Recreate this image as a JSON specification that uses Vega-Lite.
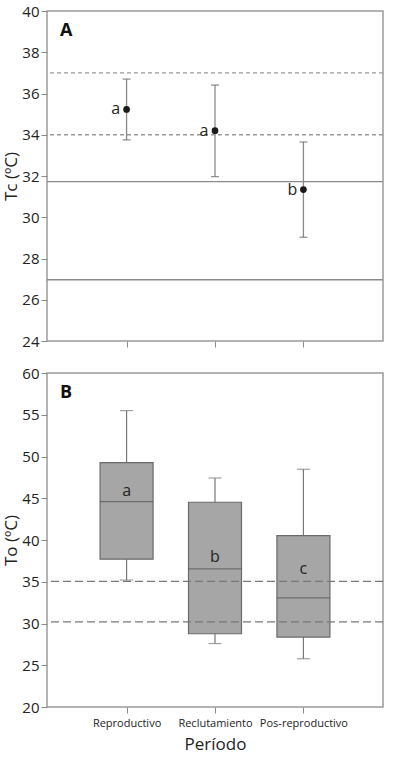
{
  "$schema": "https://vega.github.io/schema/vega-lite/v6.json",
  "padding": {"left": 2, "top": 3, "right": 10, "bottom": 5},
  "spacing": 32,
  "bounds": "flush",
  "config": {
    "font": "Open Sans",
    "view": {"stroke": "#9a9a9a", "strokeWidth": 1.5},
    "axis": {"domain": false, "grid": false, "tickColor": "#8a8a8a", "tickSize": 6, "labelColor": "#222", "titleColor": "#222", "labelFont": "Open Sans", "titleFont": "Open Sans", "titleFontWeight": "normal"}
  },
  "datasets": {
    "tc": [
      {"periodo": "Reproductivo", "media": 35.23, "lo": 33.75, "hi": 36.7, "letra": "a"},
      {"periodo": "Reclutamiento", "media": 34.2, "lo": 31.97, "hi": 36.41, "letra": "a"},
      {"periodo": "Pos-reproductivo", "media": 31.34, "lo": 29.03, "hi": 33.65, "letra": "b"}
    ],
    "tcref": [
      {"v": 37, "tipo": "dash"},
      {"v": 34, "tipo": "dash"},
      {"v": 31.73, "tipo": "solid"},
      {"v": 26.97, "tipo": "solid"}
    ],
    "to": [
      {"periodo": "Reproductivo", "min": 35.2, "q1": 37.7, "med": 44.6, "q3": 49.27, "max": 55.5, "letra": "a", "ly": 45.9},
      {"periodo": "Reclutamiento", "min": 27.6, "q1": 28.77, "med": 36.55, "q3": 44.52, "max": 47.43, "letra": "b", "ly": 38.0},
      {"periodo": "Pos-reproductivo", "min": 25.78, "q1": 28.37, "med": 33.07, "q3": 40.53, "max": 48.47, "letra": "c", "ly": 36.5}
    ],
    "toref": [{"v": 35.05}, {"v": 30.2}]
  },
  "vconcat": [
    {
      "width": 336,
      "height": 330,
      "title": {"text": "A", "anchor": "start", "frame": "group", "dx": 13, "offset": -36, "fontSize": 18, "fontWeight": "bold", "color": "#111", "font": "Open Sans"},
      "layer": [
        {
          "data": {"name": "tcref"},
          "transform": [{"filter": "datum.tipo == 'dash'"}],
          "mark": {"type": "rule", "color": "#9a9a9a", "strokeWidth": 1.3, "strokeDash": [4, 3]},
          "encoding": {"y": {"field": "v", "type": "quantitative", "scale": {"domain": [24, 40], "nice": false}}}
        },
        {
          "data": {"name": "tcref"},
          "transform": [{"filter": "datum.tipo == 'solid'"}],
          "mark": {"type": "rule", "color": "#8a8a8a", "strokeWidth": 1.3},
          "encoding": {"y": {"field": "v", "type": "quantitative"}}
        },
        {
          "data": {"name": "tc"},
          "layer": [
            {
              "mark": {"type": "rule", "color": "#8a8a8a", "strokeWidth": 1.3},
              "encoding": {"y": {"field": "lo", "type": "quantitative"}, "y2": {"field": "hi"}}
            },
            {
              "mark": {"type": "tick", "color": "#666", "size": 8, "thickness": 1.3},
              "encoding": {"y": {"field": "lo", "type": "quantitative"}}
            },
            {
              "mark": {"type": "tick", "color": "#666", "size": 8, "thickness": 1.3},
              "encoding": {"y": {"field": "hi", "type": "quantitative"}}
            },
            {
              "mark": {"type": "point", "filled": true, "color": "#1a1a1a", "size": 45, "opacity": 1},
              "encoding": {"y": {"field": "media", "type": "quantitative"}}
            },
            {
              "mark": {"type": "text", "fontSize": 16, "dx": -11, "color": "#222", "baseline": "middle"},
              "encoding": {"y": {"field": "media", "type": "quantitative"}, "text": {"field": "letra"}}
            }
          ],
          "encoding": {
            "x": {"field": "periodo", "type": "nominal", "sort": null, "scale": {"type": "point", "padding": 0.9, "domain": ["Reproductivo", "Reclutamiento", "Pos-reproductivo"]}, "axis": {"labels": false, "title": null}}
          }
        }
      ],
      "encoding": {
        "y": {"type": "quantitative", "axis": {"title": "Tc (ºC)", "values": [24, 26, 28, 30, 32, 34, 36, 38, 40], "labelFontSize": 15, "titleFontSize": 17, "labelPadding": 2, "titlePadding": 1}}
      },
      "resolve": {"scale": {"y": "shared"}}
    },
    {
      "width": 336,
      "height": 334,
      "title": {"text": "B", "anchor": "start", "frame": "group", "dx": 13, "offset": -36, "fontSize": 18, "fontWeight": "bold", "color": "#111", "font": "Open Sans"},
      "layer": [
        {
          "data": {"name": "to"},
          "layer": [
            {
              "mark": {"type": "rule", "color": "#777", "strokeWidth": 1.2},
              "encoding": {"y": {"field": "min", "type": "quantitative", "scale": {"domain": [20, 60], "nice": false}}, "y2": {"field": "q1"}}
            },
            {
              "mark": {"type": "rule", "color": "#777", "strokeWidth": 1.2},
              "encoding": {"y": {"field": "q3", "type": "quantitative"}, "y2": {"field": "max"}}
            },
            {
              "mark": {"type": "tick", "color": "#777", "size": 13, "thickness": 1.2},
              "encoding": {"y": {"field": "min", "type": "quantitative"}}
            },
            {
              "mark": {"type": "tick", "color": "#777", "size": 13, "thickness": 1.2},
              "encoding": {"y": {"field": "max", "type": "quantitative"}}
            },
            {
              "mark": {"type": "bar", "size": 53, "fill": "#a6a6a6", "stroke": "#6a6a6a", "strokeWidth": 1.2},
              "encoding": {"y": {"field": "q1", "type": "quantitative"}, "y2": {"field": "q3"}}
            },
            {
              "mark": {"type": "tick", "color": "#555", "size": 53, "thickness": 1.3},
              "encoding": {"y": {"field": "med", "type": "quantitative"}}
            },
            {
              "mark": {"type": "text", "fontSize": 16, "color": "#222", "baseline": "middle"},
              "encoding": {"y": {"field": "ly", "type": "quantitative"}, "text": {"field": "letra"}}
            }
          ],
          "encoding": {
            "x": {"field": "periodo", "type": "nominal", "sort": null, "scale": {"type": "point", "padding": 0.9, "domain": ["Reproductivo", "Reclutamiento", "Pos-reproductivo"]}, "axis": {"title": "Período", "labelAngle": 0, "labelFontSize": 11, "labelPadding": 4, "titleFontSize": 17, "titlePadding": 8}}
          }
        },
        {
          "data": {"name": "toref"},
          "mark": {"type": "rule", "color": "#777", "strokeWidth": 1.2, "strokeDash": [8, 4]},
          "encoding": {"y": {"field": "v", "type": "quantitative"}}
        }
      ],
      "encoding": {
        "y": {"type": "quantitative", "axis": {"title": "To (ºC)", "values": [20, 25, 30, 35, 40, 45, 50, 55, 60], "labelFontSize": 15, "titleFontSize": 17, "labelPadding": 2, "titlePadding": 1}}
      }
    }
  ]
}
